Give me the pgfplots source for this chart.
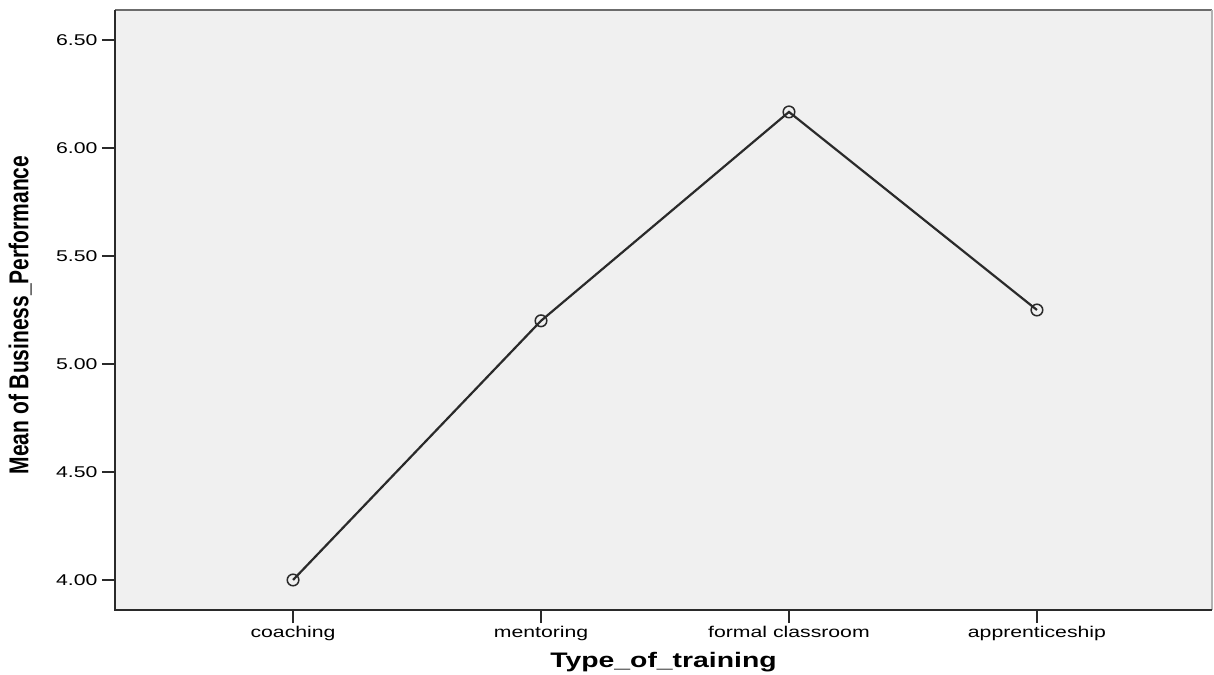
\documentclass[border=0pt]{standalone}
\usepackage{pgfplots}
\pgfplotsset{compat=1.18}
\usepackage{fontspec}
\setmainfont{Liberation Sans}
\definecolor{bg}{HTML}{F0F0F0}
\definecolor{dk}{HTML}{2A2A2A}
\begin{document}
\begin{tikzpicture}
\path[use as bounding box] (-57.5bp,-32.5bp) rectangle (549.5bp,305bp);
\begin{axis}[
  at={(0,0)}, anchor=south west,
  scale only axis, width=548.5bp, height=300bp,
  xmin=-0.718, xmax=3.706, ymin=3.861, ymax=6.639,
  xtick={0,1,2,3},
  xticklabels={coaching,mentoring,formal classroom,apprenticeship},
  ytick={4,4.5,5,5.5,6,6.5},
  yticklabel style={/pgf/number format/fixed,/pgf/number format/fixed zerofill,/pgf/number format/precision=2},
  /pgf/number format/assume math mode=true,
  tick align=outside, major tick length=6.5bp,
  tick style={dk, line width=1.2bp},
  xtick pos=bottom, ytick pos=left,
  axis background/.style={fill=bg},
  axis line style={draw=none},
  clip=false,
  xticklabel style={font=\fontsize{7.8bp}{9bp}\selectfont, xscale=1.36, inner sep=1bp, yshift=-0.5bp},
  yticklabel style={font=\fontsize{7.8bp}{9bp}\selectfont, xscale=1.36, inner sep=1bp, xshift=-0.5bp},
  xlabel={\fontsize{10.5bp}{12bp}\selectfont\bfseries Type\_of\_training},
  xlabel style={xscale=1.35, at={(rel axis cs:0.5,0)}, anchor=base, yshift=-28.5bp},
  ylabel={\fontsize{10.5bp}{12bp}\selectfont\bfseries Mean of Business\_Performance},
  ylabel style={yscale=1.3, at={(rel axis cs:0,0.5)}, anchor=south, xshift=-2.5bp, yshift=28.5bp},
]
\draw[gray!85!black, line width=1.2bp] (rel axis cs:0,1) -- (rel axis cs:1,1);
\draw[gray!60, line width=0.8bp] (rel axis cs:1,1) -- (rel axis cs:1,0);
\draw[dk, line width=1.1bp] (rel axis cs:0,1) -- (rel axis cs:0,0) -- (rel axis cs:1,0);
\addplot[dk, line width=1.1bp, mark=o, mark size=2.9bp, mark options={line width=0.75bp, fill=none, draw=dk}]
  coordinates {(0,4.00) (1,5.20) (2,6.167) (3,5.25)};
\end{axis}
\end{tikzpicture}
\end{document}
